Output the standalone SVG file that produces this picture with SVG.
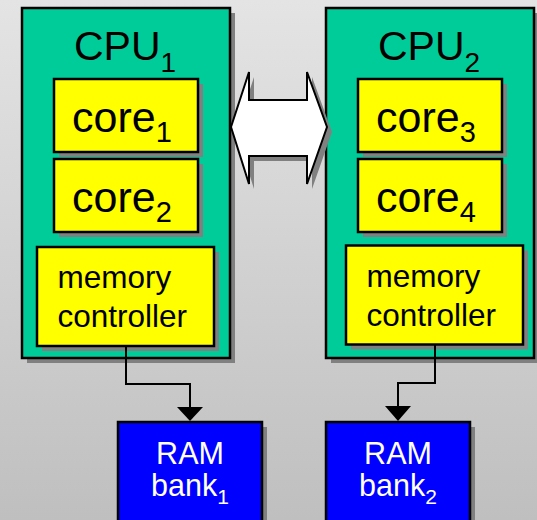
<svg xmlns="http://www.w3.org/2000/svg" width="537" height="520" viewBox="0 0 537 520">
<defs>
<linearGradient id="bg" x1="0" y1="0" x2="0" y2="1">
<stop offset="0" stop-color="#e4e4e4"/>
<stop offset="1" stop-color="#bfbfbf"/>
</linearGradient>
<style>
.sh{fill:#808080;stroke:none}
.cpu{fill:#00cc99;stroke:#000;stroke-width:2.5}
.core{fill:#ffff00;stroke:#000;stroke-width:2.5}
.ram{fill:#0000ff;stroke:#000;stroke-width:2.5}
text{font-family:"Liberation Sans",Arial,sans-serif;fill:#000}
.t40{font-size:41px}
.t42{font-size:43px}
.t30{font-size:31.5px}
.w{fill:#fff;font-size:30.5px}
.ln{fill:none;stroke:#000;stroke-width:2}
</style>
</defs>
<rect width="537" height="520" fill="url(#bg)"/>

<g id="cpu1">
<rect class="sh" x="27" y="13" width="208" height="350"/>
<rect class="cpu" x="22" y="8" width="208" height="350"/>
<text class="t40" x="125" y="59.5" text-anchor="middle">CPU<tspan font-size="28" dy="12">1</tspan></text>
</g>
<g id="core1">
<rect class="sh" x="59" y="84" width="144" height="73"/>
<rect class="core" x="54" y="79" width="144" height="73"/>
<text class="t42" x="122" y="132" text-anchor="middle">core<tspan font-size="29" dy="9.5">1</tspan></text>
</g>
<g id="core2">
<rect class="sh" x="59" y="164" width="144" height="73"/>
<rect class="core" x="54" y="159" width="144" height="73"/>
<text class="t42" x="122" y="212" text-anchor="middle">core<tspan font-size="29" dy="9.5">2</tspan></text>
</g>
<g id="mc1">
<rect class="sh" x="42" y="252" width="177" height="99"/>
<rect class="core" x="37" y="247" width="177" height="99"/>
<text class="t30" x="57.5" y="288">memory</text>
<text class="t30" x="57.5" y="327">controller</text>
</g>

<g id="cpu2">
<rect class="sh" x="331" y="13" width="208" height="350"/>
<rect class="cpu" x="326" y="8" width="208" height="350"/>
<text class="t40" x="429" y="59.5" text-anchor="middle">CPU<tspan font-size="28" dy="12">2</tspan></text>
</g>
<g id="core3">
<rect class="sh" x="363" y="84" width="144" height="73"/>
<rect class="core" x="358" y="79" width="144" height="73"/>
<text class="t42" x="426" y="132" text-anchor="middle">core<tspan font-size="29" dy="9.5">3</tspan></text>
</g>
<g id="core4">
<rect class="sh" x="363" y="164" width="144" height="73"/>
<rect class="core" x="358" y="159" width="144" height="73"/>
<text class="t42" x="426" y="212" text-anchor="middle">core<tspan font-size="29" dy="9.5">4</tspan></text>
</g>
<g id="mc2">
<rect class="sh" x="351" y="250.5" width="177" height="99"/>
<rect class="core" x="346" y="245.5" width="177" height="99"/>
<text class="t30" x="366.5" y="287">memory</text>
<text class="t30" x="366.5" y="326">controller</text>
</g>

<g id="link">
<polygon class="sh" points="236,132 254,77 254,105 312,105 312,77 332,132 312,189 312,161 254,161 254,189"/>
<polygon fill="#fff" stroke="#000" stroke-width="2" stroke-linejoin="miter" points="231,127 249,72 249,100 307,100 307,72 327,127 307,184 307,156 249,156 249,184"/>
</g>

<g id="ram1">
<rect class="sh" x="123" y="427" width="144" height="110"/>
<rect class="ram" x="118" y="422" width="144" height="110"/>
<text class="w" x="190" y="463.5" text-anchor="middle">RAM</text>
<text class="w" x="190" y="496" text-anchor="middle">bank<tspan font-size="21" dy="8">1</tspan></text>
</g>
<g id="ram2">
<rect class="sh" x="331" y="427" width="144" height="110"/>
<rect class="ram" x="326" y="422" width="144" height="110"/>
<text class="w" x="398" y="463.5" text-anchor="middle">RAM</text>
<text class="w" x="398" y="496" text-anchor="middle">bank<tspan font-size="21" dy="8">2</tspan></text>
</g>

<g id="connectors">
<path class="ln" d="M126,346 V384 H190 V408"/>
<polygon points="177,407 203,407 190,421" fill="#000"/>
<path class="ln" d="M435,344.5 V383 H398 V407"/>
<polygon points="385,406 411,406 398,421" fill="#000"/>
</g>
</svg>
